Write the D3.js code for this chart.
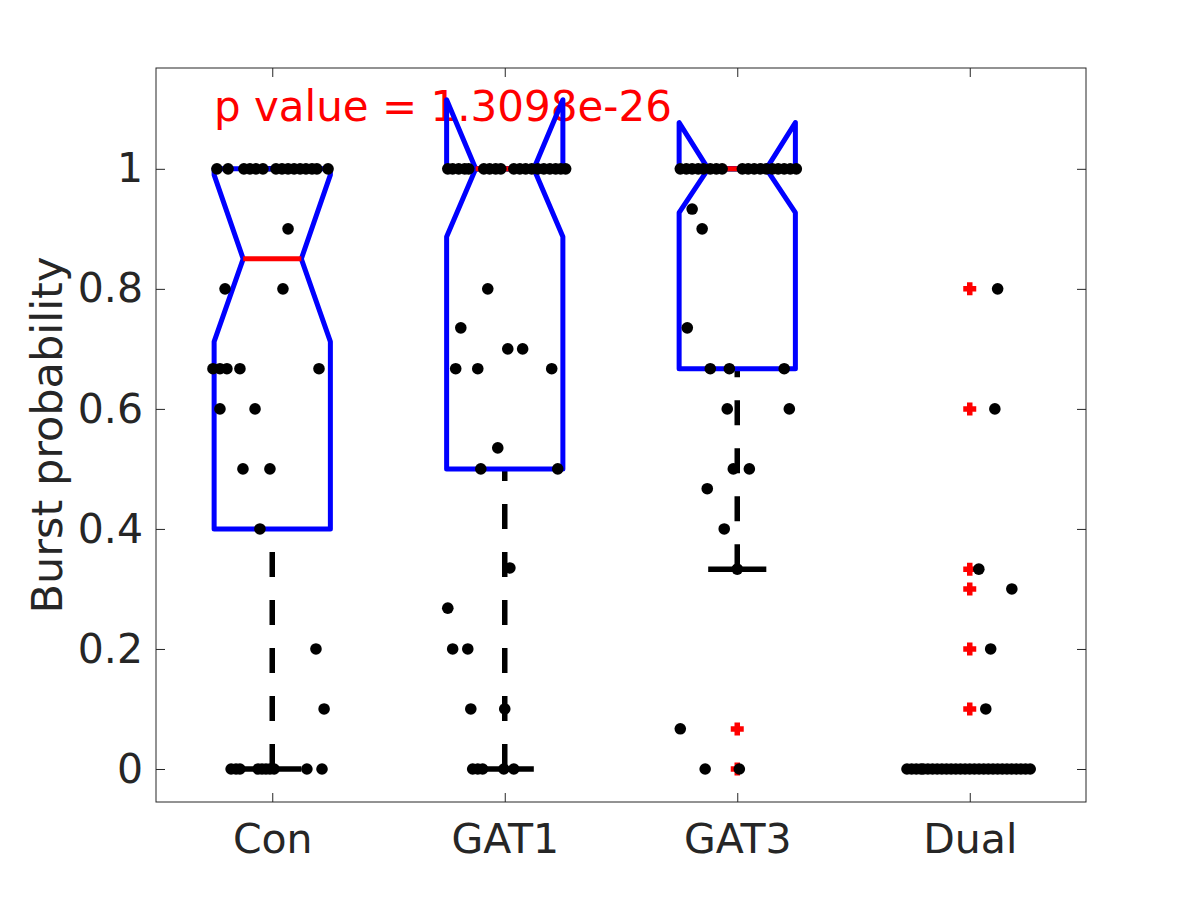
<!DOCTYPE html>
<html><head><meta charset="utf-8">
<script src="https://cdn.jsdelivr.net/npm/d3@7"></script>
<style>body{margin:0;background:#fff} svg{display:block}</style>
</head><body><svg id="chart" width="1200" height="900"></svg>
<script>
// ---------- data ----------
const categories = ["Con", "GAT1", "GAT3", "Dual"];
const xLimits = [0.5, 4.5];
const yLimits = [-0.055, 1.168];
const yTicks = [0, 0.2, 0.4, 0.6, 0.8, 1];
const yTickLabels = ["0", "0.2", "0.4", "0.6", "0.8", "1"];
const yLabel = "Burst probability";
const pText = "p value = 1.3098e-26";
const pTextPos = [0.749, 1.08];

// box statistics per group
const q1 = [0.4, 0.5, 0.667, 0];
const medians = [0.85, 1, 1, 0];
const q3 = [1, 1, 1, 0];
const notchLo = [0.712, 0.887, 0.927, 0];
const notchHi = [0.99, 1.115, 1.077, 0];
const whiskerLo = [0, 0, 0.333, 0];
const whiskerHi = [1, 1, 1, 0];

// outliers per group
const outliers = [
  [],
  [],
  [0.0667, 0],
  [0.8, 0.6, 0.333, 0.3, 0.2, 0.1]
];

// jittered raw points: [x position (category units), value]
const conPoints = [
  [0.762,1],[0.810,1],[0.878,1],[0.904,1],[0.930,1],[0.960,1],[1.016,1],[1.042,1],[1.068,1],[1.094,1],
  [1.120,1],[1.145,1],[1.171,1],[1.192,1],[1.240,1],
  [1.068,0.9],[0.797,0.8],[1.046,0.8],
  [0.745,0.667],[0.775,0.667],[0.805,0.667],[0.861,0.667],[1.201,0.667],
  [0.775,0.6],[0.926,0.6],[0.874,0.5],[0.990,0.5],[0.947,0.4],[1.188,0.2],[1.223,0.1],
  [0.823,0],[0.844,0],[0.861,0],[0.939,0],[0.956,0],[0.973,0],[0.990,0],[1.008,0],[1.149,0],[1.214,0]
];
const gat1Points = [
  [1.755,1],[1.776,1],[1.802,1],[1.828,1],[1.845,1],[1.910,1],[1.935,1],[1.961,1],[1.983,1],[2.039,1],
  [2.065,1],[2.090,1],[2.116,1],[2.142,1],[2.168,1],[2.194,1],[2.219,1],[2.241,1],[2.262,1],
  [1.927,0.8],[1.811,0.735],[2.013,0.7],[2.077,0.7],
  [1.789,0.667],[1.884,0.667],[2.202,0.667],[1.970,0.535],[1.897,0.5],[2.228,0.5],
  [2.022,0.335],[1.755,0.268],[1.776,0.2],[1.841,0.2],[1.854,0.1],[2.0,0.1],
  [1.862,0],[1.884,0],[1.905,0],[1.996,0],[2.039,0]
];
const gat3Points = [
  [2.755,1],[2.781,1],[2.806,1],[2.832,1],[2.854,1],[2.884,1],[2.910,1],[2.935,1],[3.022,1],[3.047,1],
  [3.073,1],[3.099,1],[3.125,1],[3.151,1],[3.176,1],[3.202,1],[3.228,1],[3.254,1],
  [2.806,0.933],[2.849,0.9],[2.785,0.735],
  [2.884,0.667],[2.966,0.667],[3.202,0.667],[2.957,0.6],[3.224,0.6],
  [2.983,0.5],[3.052,0.5],[2.871,0.467],[2.944,0.4],[3.0,0.333],
  [2.755,0.067],[2.862,0],[3.009,0]
];
const dualPoints = [
  [4.120,0.8],[4.108,0.6],[4.039,0.333],[4.181,0.3],[4.090,0.2],[4.069,0.1],
  [3.73,0],[3.75,0],[3.77,0],[3.79,0],[3.80,0],[3.82,0],[3.84,0],[3.86,0],[3.88,0],[3.90,0],
  [3.92,0],[3.94,0],[3.96,0],[3.98,0],[4.00,0],[4.02,0],[4.04,0],[4.06,0],[4.08,0],[4.10,0],
  [4.12,0],[4.14,0],[4.16,0],[4.18,0],[4.20,0],[4.22,0],[4.24,0],[4.26,0]
];
const allPoints = [conPoints, gat1Points, gat3Points, dualPoints];

// ---------- drawing ----------
const W = {left:156, right:1086, top:68, bottom:802};
const FONT = "'DejaVu Sans', sans-serif";
const AX = "#262626";
const svg = d3.select("#chart");
const x = d3.scaleLinear().domain(xLimits).range([W.left, W.right]);
const y = d3.scaleLinear().domain(yLimits).range([W.bottom, W.top]);

// frame
svg.append("rect").attr("x", W.left).attr("y", W.top)
  .attr("width", W.right - W.left).attr("height", W.bottom - W.top)
  .attr("fill", "#fff").attr("stroke", AX).attr("stroke-width", 1);

function styleAxis(g){
  g.select(".domain").remove();
  g.selectAll(".tick line").attr("stroke", AX).attr("stroke-width", 1);
  g.selectAll(".tick text").attr("fill", AX).attr("font-family", FONT).attr("font-size", 41);
}
const xTickVals = categories.map((c, i) => i + 1);
svg.append("g").attr("transform", `translate(0,${W.bottom})`)
  .call(d3.axisBottom(x).tickValues(xTickVals).tickFormat((d, i) => categories[i]).tickSizeInner(-9).tickSizeOuter(0))
  .call(styleAxis)
  .call(g => g.selectAll(".tick text").attr("y", 51).attr("dy", null));
svg.append("g").attr("transform", `translate(0,${W.top})`)
  .call(d3.axisTop(x).tickValues(xTickVals).tickFormat("").tickSizeInner(-9).tickSizeOuter(0))
  .call(styleAxis);
svg.append("g").attr("transform", `translate(${W.left},0)`)
  .call(d3.axisLeft(y).tickValues(yTicks).tickFormat((d, i) => yTickLabels[i]).tickSizeInner(-9).tickSizeOuter(0).tickPadding(13))
  .call(styleAxis);
svg.append("g").attr("transform", `translate(${W.right},0)`)
  .call(d3.axisRight(y).tickValues(yTicks).tickFormat("").tickSizeInner(-9).tickSizeOuter(0))
  .call(styleAxis);

// y label
svg.append("text")
  .attr("transform", `translate(62,${(W.top + W.bottom) / 2}) rotate(-90)`)
  .attr("text-anchor", "middle").attr("font-family", FONT).attr("font-size", 43)
  .attr("fill", AX).text(yLabel);

// p value text
svg.append("text").attr("x", x(pTextPos[0])).attr("y", y(pTextPos[1]))
  .attr("font-family", FONT).attr("font-size", 42).attr("fill", "#ff0000").text(pText);

// boxes
const hw = 0.25;
categories.forEach((cat, i) => {
  const c = i + 1;
  const g = svg.append("g");
  // whiskers
  if (whiskerLo[i] < q1[i]) {
    g.append("line").attr("x1", x(c)).attr("x2", x(c)).attr("y1", y(whiskerLo[i])).attr("y2", y(q1[i]))
      .attr("stroke", "#000").attr("stroke-width", 5.5).attr("stroke-dasharray", "25,23");
  }
  if (whiskerHi[i] > q3[i]) {
    g.append("line").attr("x1", x(c)).attr("x2", x(c)).attr("y1", y(whiskerHi[i])).attr("y2", y(q3[i]))
      .attr("stroke", "#000").attr("stroke-width", 5.5).attr("stroke-dasharray", "25,23");
  }
  [whiskerLo[i], whiskerHi[i]].forEach(v => {
    g.append("line").attr("x1", x(c - hw / 2)).attr("x2", x(c + hw / 2)).attr("y1", y(v)).attr("y2", y(v))
      .attr("stroke", "#000").attr("stroke-width", 5.5);
  });
  // notched box
  const pts = [
    [c - hw, q1[i]], [c - hw, notchLo[i]], [c - hw / 2, medians[i]], [c - hw, notchHi[i]], [c - hw, q3[i]],
    [c + hw, q3[i]], [c + hw, notchHi[i]], [c + hw / 2, medians[i]], [c + hw, notchLo[i]], [c + hw, q1[i]]
  ];
  g.append("path").attr("d", d3.line().x(d => x(d[0])).y(d => y(d[1]))(pts) + "Z")
    .attr("fill", "none").attr("stroke", "#0000ff").attr("stroke-width", 5).attr("stroke-linejoin", "round");
  // median
  g.append("line").attr("x1", x(c - hw / 2)).attr("x2", x(c + hw / 2)).attr("y1", y(medians[i])).attr("y2", y(medians[i]))
    .attr("stroke", "#ff0000").attr("stroke-width", 5);
  // outliers
  outliers[i].forEach(v => {
    const px = x(c), py = y(v);
    g.append("path").attr("d", `M${px - 6.5},${py}H${px + 6.5}M${px},${py - 6.5}V${py + 6.5}`)
      .attr("stroke", "#ff0000").attr("stroke-width", 5.5).attr("fill", "none");
  });
});

// raw points
allPoints.forEach(pts => {
  svg.append("g").selectAll("circle").data(pts).join("circle")
    .attr("cx", d => x(d[0])).attr("cy", d => y(d[1])).attr("r", 5.8).attr("fill", "#000");
});
</script></body></html>
